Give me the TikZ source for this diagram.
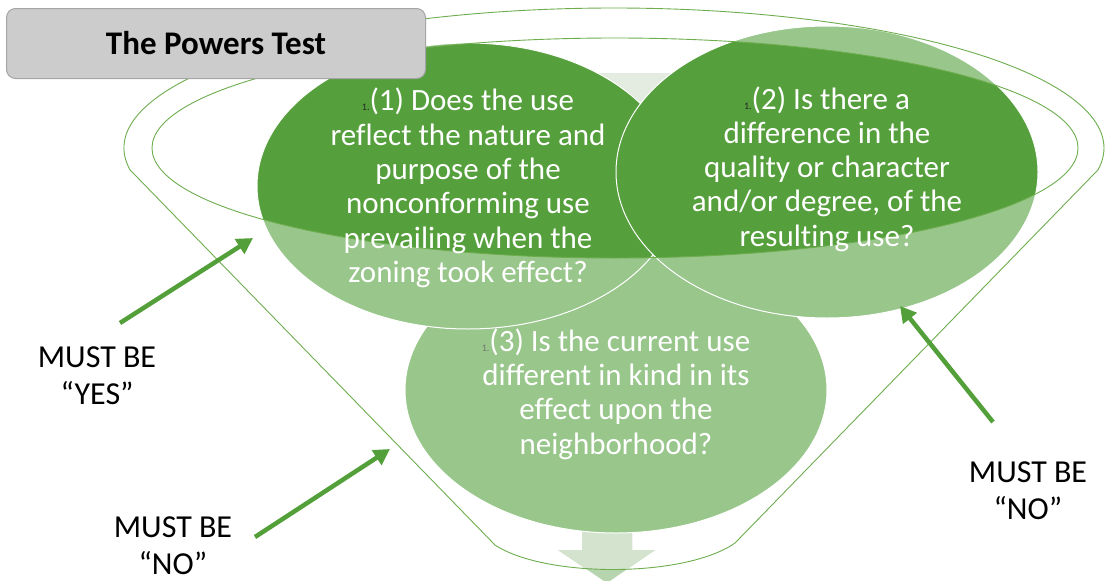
\documentclass[tikz,border=0pt]{standalone}
\usepackage{fontspec}
\setmainfont{Carlito}[Ligatures={TeX,NoCommon}]
\usetikzlibrary{calc,arrows.meta}
\definecolor{dkgreen}{HTML}{559F3C}
\definecolor{ltgreen}{HTML}{98C68B}
\definecolor{funline}{HTML}{6DAD4E}
\definecolor{arrowgreen}{HTML}{53A03B}
\definecolor{palearrow}{HTML}{D3E3CE}
\definecolor{darkarrow}{HTML}{B6D4AD}
\definecolor{toparrow}{HTML}{E4ECE1}
\definecolor{boxgray}{HTML}{CCCCCC}
\definecolor{boxline}{HTML}{A5A5A5}
\newcommand{\numpre}[1]{{\fontsize{10}{10}\selectfont\textcolor{#1}{1.}}}
\begin{document}
\begin{tikzpicture}[x=1pt,y=-1pt,
  funnelline/.style={draw=funline,line width=0.9pt},
  circleedge/.style={draw=white,line width=1pt},
  qtext/.style={text=white,align=center,font=\fontsize{31}{34.3}\selectfont,inner sep=0pt},
  lbl/.style={text=black,align=center,font=\fontsize{32}{37}\selectfont,inner sep=0pt},
  bigarrow/.style={draw=arrowgreen,line width=4.5pt,-{Triangle[length=16pt,width=17pt]}},
  titlebox/.style={draw=boxline,fill=boxgray,line width=1pt,rounded corners=9pt}
]
\useasboundingbox (0,0) rectangle (1106,581);

% centres
\coordinate (oc) at (614,148);
\coordinate (ic) at (615,148);
\coordinate (c1) at (468,186);
\coordinate (c2) at (827,172);
\coordinate (c3) at (616,390);
\path (oc) ++(171:490 and 140) coordinate (fl);
\path (oc) ++(9:490 and 140) coordinate (fr);
\coordinate (bl) at (495,545);
\coordinate (br) at (735,543);

% pale down arrow behind
\fill[toparrow] (578,73) rectangle (690,150);
\fill[darkarrow] (582,300) -- (632,300) -- (632,550) -- (655,550) -- (607,583) -- (558,550) -- (582,550) -- cycle;
\begin{scope}
  \clip (fl) arc[start angle=171,end angle=369,x radius=490,y radius=140] -- (br) .. controls (685,578) and (545,578) .. (bl) -- cycle;
  \fill[palearrow] (582,300) -- (632,300) -- (632,550) -- (655,550) -- (607,583) -- (558,550) -- (582,550) -- cycle;
\end{scope}

% circle 3
\fill[ltgreen] (c3) ellipse[x radius=211,y radius=143];
\draw[circleedge] (c3) ellipse[x radius=211,y radius=143];
% light fills of circles 1 and 2
\fill[ltgreen] (c1) ellipse[x radius=211,y radius=143];
\fill[ltgreen] (c2) ellipse[x radius=211,y radius=146];
% dark part of circle 1
\begin{scope}
  \clip (ic) ellipse[x radius=463,y radius=110];
  \fill[dkgreen] (c1) ellipse[x radius=211,y radius=143];
\end{scope}
\draw[circleedge] (c1) ellipse[x radius=211,y radius=143];
% dark part of circle 2
\begin{scope}
  \clip (ic) ellipse[x radius=463,y radius=110];
  \fill[dkgreen] (c2) ellipse[x radius=211,y radius=146];
\end{scope}
\draw[circleedge] (c2) ellipse[x radius=211,y radius=146];

% funnel outline
\draw[funnelline] (fl) arc[start angle=171,end angle=369,x radius=490,y radius=140] -- (br) .. controls (685,578) and (545,578) .. (bl) -- cycle;
\draw[funnelline] (ic) ellipse[x radius=463,y radius=110];

% title box
\node[titlebox,minimum width=419pt,minimum height=70pt,anchor=north west] (title) at (6,8) {};
\node[font=\bfseries\fontsize{33}{36}\selectfont,inner sep=0pt] (titletext) at (216,43) {The Powers Test};

% question texts
\node[qtext] (q1) at (468,188) {\numpre{black!85}(1) Does the use\\reflect the nature and\\purpose of the\\nonconforming use\\prevailing when the\\zoning took effect?};
\node[qtext] (q2) at (827,169) {\numpre{black!85}(2) Is there a\\difference in the\\quality or character\\and/or degree, of the\\resulting use?};
\node[qtext] (q3) at (616,394) {\numpre{black!55}(3) Is the current use\\different in kind in its\\effect upon the\\neighborhood?};

% labels
\node[lbl] (lyes) at (97,376) {MUST BE\\“YES”};
\node[lbl] (lno1) at (173,546) {MUST BE\\“NO”};
\node[lbl] (lno2) at (1028,491) {MUST BE\\“NO”};

% arrows
\coordinate (a1s) at (120,323);
\coordinate (a1e) at (253,238);
\coordinate (a2s) at (255,537);
\coordinate (a2e) at (390,449);
\coordinate (a3s) at (993,422);
\coordinate (a3e) at (900,306);
\draw[bigarrow] (a1s) -- (a1e);
\draw[bigarrow] (a2s) -- (a2e);
\draw[bigarrow] (a3s) -- (a3e);
\end{tikzpicture}
\end{document}
